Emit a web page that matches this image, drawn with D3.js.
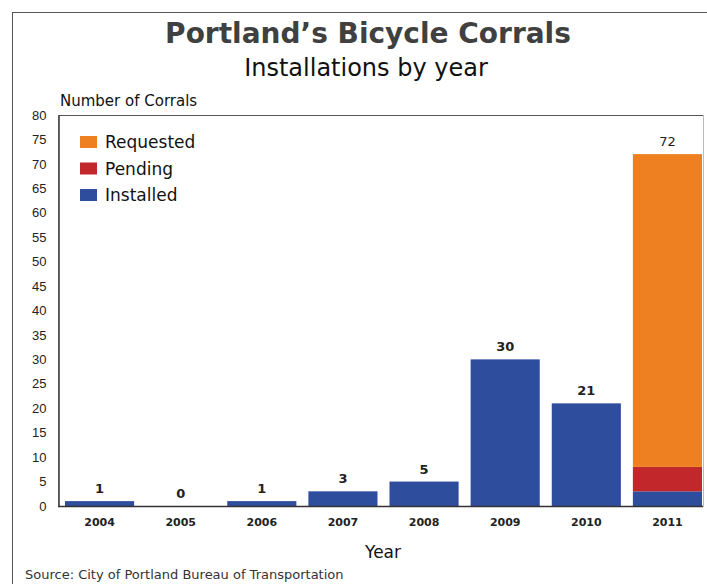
<!DOCTYPE html>
<html>
<head>
<meta charset="utf-8">
<script src="https://cdn.jsdelivr.net/npm/d3@7"></script>
<style>
  body { margin: 0; background: #fff; }
  svg text { font-family: "DejaVu Sans", sans-serif; }
</style>
</head>
<body>
<div id="chart"></div>
<script>
// chart data
const years = ["2004", "2005", "2006", "2007", "2008", "2009", "2010", "2011"];
const installed = [1, 0, 1, 3, 5, 30, 21, 3];
const pending = [0, 0, 0, 0, 0, 0, 0, 5];
const requested = [0, 0, 0, 0, 0, 0, 0, 64];
const seriesNames = ["Installed", "Pending", "Requested"];
const seriesColors = ["#2e4d9d", "#c1272b", "#ee8022"];
const yTicks = d3.range(0, 81, 5);

const width = 707, height = 584;
const plotLeft = 58, plotTop = 115, plotBottom = 506, plotRight = 703;

const svg = d3.select("#chart").append("svg")
    .attr("width", width)
    .attr("height", height);

// outer frame
svg.append("rect")
    .attr("x", 12.5).attr("y", 12.5)
    .attr("width", 800).attr("height", 800)
    .attr("fill", "none")
    .attr("stroke", "#555")
    .attr("stroke-width", 1);

svg.append("text")
    .attr("x", 368).attr("y", 43)
    .attr("text-anchor", "middle")
    .attr("font-weight", "bold")
    .attr("font-size", 28)
    .attr("fill", "#404040")
    .text("Portland\u2019s Bicycle Corrals");

svg.append("text")
    .attr("x", 366).attr("y", 76)
    .attr("text-anchor", "middle")
    .attr("font-size", 24)
    .attr("fill", "#111")
    .text("Installations by year");

svg.append("text")
    .attr("x", 60).attr("y", 106)
    .attr("font-size", 15)
    .attr("fill", "#111")
    .text("Number of Corrals");

const x = d3.scaleBand()
    .domain(years)
    .range([59, 708])
    .paddingInner(0.148)
    .paddingOuter(0.074);

const y = d3.scaleLinear()
    .domain([0, 80])
    .range([plotBottom, plotTop]);

// stack the three series
const rows = years.map((yr, i) => ({
    year: yr,
    Installed: installed[i],
    Pending: pending[i],
    Requested: requested[i]
}));
const stacked = d3.stack().keys(seriesNames)(rows);

// plot frame
svg.append("rect")
    .attr("x", plotLeft + 0.5).attr("y", plotTop + 0.5)
    .attr("width", plotRight - plotLeft).attr("height", plotBottom - plotTop)
    .attr("fill", "none")
    .attr("stroke", "#bbb");
svg.append("line")
    .attr("x1", plotLeft + 0.5).attr("x2", plotRight)
    .attr("y1", plotTop + 0.5).attr("y2", plotTop + 0.5)
    .attr("stroke", "#555");

svg.append("g")
    .selectAll("g")
    .data(stacked)
    .join("g")
    .attr("fill", (d, i) => seriesColors[i])
    .selectAll("rect")
    .data(d => d)
    .join("rect")
    .attr("x", d => x(d.data.year))
    .attr("y", d => y(d[1]))
    .attr("width", x.bandwidth())
    .attr("height", d => y(d[0]) - y(d[1]));

// y axis
const yAxis = svg.append("g")
    .attr("transform", `translate(${plotLeft + 0.5},0)`)
    .call(d3.axisLeft(y).tickValues(yTicks).tickSize(0).tickPadding(12));
yAxis.select(".domain").attr("stroke", "#333").attr("stroke-width", 1.5);
yAxis.selectAll("text")
    .attr("font-size", 13)
    .attr("fill", "#222")
    .style("font-family", "Liberation Sans, sans-serif");

// x axis
const xAxis = svg.append("g")
    .attr("transform", `translate(0,${plotBottom + 0.5})`)
    .call(d3.axisBottom(x).tickSize(0).tickPadding(12));
xAxis.select(".domain").attr("d", `M${plotLeft},0H${plotRight}`)
    .attr("stroke", "#333").attr("stroke-width", 1.5);
xAxis.selectAll("text")
    .attr("font-size", 11)
    .attr("font-weight", "bold")
    .attr("fill", "#222");

// totals above bars
svg.append("g")
    .selectAll("text")
    .data(rows)
    .join("text")
    .attr("x", d => x(d.year) + x.bandwidth() / 2)
    .attr("y", d => y(d.Installed + d.Pending + d.Requested) - 8)
    .attr("text-anchor", "middle")
    .attr("font-size", 13)
    .attr("font-weight", d => d.year === "2011" ? "normal" : "bold")
    .attr("fill", "#222")
    .text(d => d.Installed + d.Pending + d.Requested);

// legend
const legendOrder = ["Requested", "Pending", "Installed"];
const legend = svg.append("g")
    .selectAll("g")
    .data(legendOrder)
    .join("g")
    .attr("transform", (d, i) => `translate(80,${136 + i * 26.5})`);
legend.append("rect")
    .attr("width", 17).attr("height", 12)
    .attr("fill", d => seriesColors[seriesNames.indexOf(d)]);
legend.append("text")
    .attr("x", 25).attr("y", 12)
    .attr("font-size", 17)
    .attr("fill", "#111")
    .text(d => d);

svg.append("text")
    .attr("x", 383).attr("y", 558)
    .attr("text-anchor", "middle")
    .attr("font-size", 17)
    .attr("fill", "#111")
    .text("Year");

svg.append("text")
    .attr("x", 25).attr("y", 579)
    .attr("font-size", 13)
    .attr("fill", "#333")
    .text("Source: City of Portland Bureau of Transportation");
</script>
</body>
</html>
